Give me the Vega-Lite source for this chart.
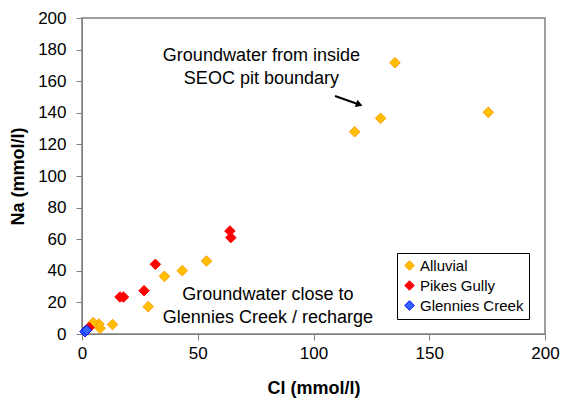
{
  "$schema": "https://vega.github.io/schema/vega-lite/v6.json",
  "autosize": {"type": "none"},
  "padding": {"left": 82, "top": 18, "right": 17, "bottom": 77},
  "width": 463,
  "height": 316,
  "background": "white",
  "config": {
    "font": "Liberation Sans",
    "view": {"stroke": "#808080", "strokeWidth": 1.5},
    "axis": {"grid": false, "domainColor": "#808080", "tickColor": "#808080", "labelFont": "Liberation Sans", "labelFontSize": 17, "labelColor": "black", "labelFlush": false, "titleFont": "Liberation Sans", "titleFontSize": 18, "titleFontWeight": "bold", "titleColor": "black", "tickSize": 6}
  },
  "datasets": {
    "pts": [
      {"Cl": 135.2, "Na": 171.7, "Site": "Alluvial"},
      {"Cl": 129, "Na": 136.5, "Site": "Alluvial"},
      {"Cl": 117.8, "Na": 128, "Site": "Alluvial"},
      {"Cl": 175.5, "Na": 140.3, "Site": "Alluvial"},
      {"Cl": 53.8, "Na": 46.2, "Site": "Alluvial"},
      {"Cl": 43.3, "Na": 40.1, "Site": "Alluvial"},
      {"Cl": 35.6, "Na": 36.5, "Site": "Alluvial"},
      {"Cl": 28.6, "Na": 17.3, "Site": "Alluvial"},
      {"Cl": 13.2, "Na": 6.0, "Site": "Alluvial"},
      {"Cl": 7.8, "Na": 3.6, "Site": "Alluvial"},
      {"Cl": 7.3, "Na": 6.3, "Site": "Alluvial"},
      {"Cl": 4.8, "Na": 7.2, "Site": "Alluvial"},
      {"Cl": 63.9, "Na": 65.2, "Site": "Pikes Gully"},
      {"Cl": 64.3, "Na": 61.0, "Site": "Pikes Gully"},
      {"Cl": 31.7, "Na": 44.1, "Site": "Pikes Gully"},
      {"Cl": 26.8, "Na": 27.4, "Site": "Pikes Gully"},
      {"Cl": 16.4, "Na": 23.4, "Site": "Pikes Gully"},
      {"Cl": 17.9, "Na": 23.4, "Site": "Pikes Gully"},
      {"Cl": 3.1, "Na": 4.1, "Site": "Pikes Gully"},
      {"Cl": 2.4, "Na": 3.0, "Site": "Pikes Gully"},
      {"Cl": 1.3, "Na": 1.5, "Site": "Glennies Creek"},
      {"Cl": 2.0, "Na": 2.4, "Site": "Glennies Creek"}
    ],
    "notes": [
      {"Cl": 77.5, "Na": 176, "label": "Groundwater from inside"},
      {"Cl": 77.5, "Na": 161.4, "label": "SEOC pit boundary"},
      {"Cl": 80.3, "Na": 24.7, "label": "Groundwater close to"},
      {"Cl": 80.3, "Na": 10.1, "label": "Glennies Creek / recharge"}
    ],
    "arrow": [
      {"Cl": 109.3, "Na": 150.6, "Cl2": 118.8, "Na2": 145.7}
    ],
    "head": [
      {"Cl": 119.8, "Na": 145.2}
    ]
  },
  "layer": [
    {
      "data": {"name": "pts"},
      "mark": {"type": "point", "shape": "diamond", "filled": true, "size": 110, "opacity": 1, "strokeWidth": 1},
      "encoding": {
        "x": {"field": "Cl", "type": "quantitative", "scale": {"domain": [0, 200], "nice": false}, "axis": {"values": [0, 50, 100, 150, 200], "title": "Cl (mmol/l)", "titlePadding": 18, "labelPadding": 5, "labelFlush": false}},
        "y": {"field": "Na", "type": "quantitative", "scale": {"domain": [0, 200], "nice": false}, "axis": {"tickCount": 10, "title": "Na (mmol/l)", "titlePadding": 10, "labelPadding": 10, "labelFlush": false, "labelOverlap": false, "labelBound": false, "labelFontSize": 17, "labelLineHeight": 12}},
        "fill": {"field": "Site", "type": "nominal", "scale": {"domain": ["Alluvial", "Pikes Gully", "Glennies Creek"], "range": ["#FFC000", "#FF0000", "#3366FF"]}, "legend": {"title": null, "orient": "none", "legendX": 315, "legendY": 235, "symbolType": "diamond", "symbolSize": 90, "labelFontSize": 15, "labelFont": "Liberation Sans", "labelColor": "black", "strokeColor": "black", "fillColor": "white", "padding": 5, "rowPadding": 4, "symbolStrokeWidth": 1, "labelOffset": 3}},
        "stroke": {"field": "Site", "type": "nominal", "scale": {"domain": ["Alluvial", "Pikes Gully", "Glennies Creek"], "range": ["#FF9900", "#FF0000", "#0000FF"]}, "legend": null}
      }
    },
    {
      "data": {"name": "notes"},
      "mark": {"type": "text", "fontSize": 18, "font": "Liberation Sans", "align": "center", "baseline": "middle", "color": "black"},
      "encoding": {
        "x": {"field": "Cl", "type": "quantitative"},
        "y": {"field": "Na", "type": "quantitative"},
        "text": {"field": "label"}
      }
    },
    {
      "data": {"name": "arrow"},
      "mark": {"type": "rule", "color": "black", "strokeWidth": 2},
      "encoding": {
        "x": {"field": "Cl", "type": "quantitative"},
        "y": {"field": "Na", "type": "quantitative"},
        "x2": {"field": "Cl2"},
        "y2": {"field": "Na2"}
      }
    },
    {
      "data": {"name": "head"},
      "mark": {"type": "point", "shape": "triangle-right", "filled": true, "color": "black", "size": 60, "angle": 20, "opacity": 1},
      "encoding": {
        "x": {"field": "Cl", "type": "quantitative"},
        "y": {"field": "Na", "type": "quantitative"}
      }
    }
  ]
}
